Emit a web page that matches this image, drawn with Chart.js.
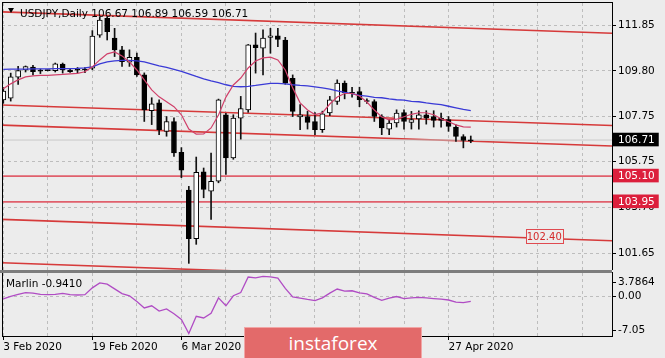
<!DOCTYPE html>
<html>
<head>
<meta charset="utf-8">
<script src="https://cdn.jsdelivr.net/npm/chart.js@4.4.1/dist/chart.umd.min.js"></script>
<style>
  html, body { margin:0; padding:0; background:#ececec; }
  #wrap { position:relative; width:665px; height:358px; overflow:hidden; background:#ececec; }
  #wrap canvas { position:absolute; left:0; }
  #mainCanvas { top:0; }
  #subCanvas { top:270px; }
  #sep { position:absolute; left:0; top:270px; width:612px; height:3px; background:#7d7d7d; }
  .txt { position:absolute; font-family:'DejaVu Sans', sans-serif; font-size:10.5px; color:#000; white-space:pre; line-height:12px; }
  #tri { position:absolute; left:8px; top:8px; width:0; height:0; border-left:3.5px solid transparent; border-right:3.5px solid transparent; border-top:5px solid #000; }
  #logo { position:absolute; left:244px; top:327px; width:176px; height:31px; background:#e36a6a; border:1px solid #f1a6a6; border-bottom:none; color:#fff; font-family:'Open Sans', sans-serif; font-size:19px; line-height:30px; text-align:center; }
</style>
</head>
<body>
<div id="wrap">
  <canvas id="mainCanvas" width="665" height="270"></canvas>
  <canvas id="subCanvas" width="665" height="88"></canvas>
  <div id="sep"></div>
  <div id="tri"></div>
  <div class="txt" id="title" style="left:20px;top:6.5px;"></div>
  <div class="txt" id="legend" style="left:6px;top:277px;"></div>
  <div id="logo">instaforex</div>
</div>
<script>
// ---------------- DATA ----------------
const symbolTitle = 'USDJPY,Daily';
const indicatorName = 'Marlin';

const opens  = [108.50,108.58,109.52,109.84,109.97,109.80,109.81,109.81,110.10,109.84,109.83,109.84,109.92,111.40,112.15,111.26,
                110.74,110.19,110.41,109.62,108.02,108.37,107.10,107.54,106.16,104.47,102.30,105.29,104.42,104.87,107.84,105.91,
                107.69,108.06,110.96,110.81,111.30,111.37,111.18,109.47,107.74,107.76,107.54,107.17,107.92,108.43,109.25,108.80,
                108.88,108.44,108.43,107.76,107.20,107.47,107.94,107.50,107.65,107.84,107.76,107.69,107.62,107.29,106.87,106.67];
const highs  = [109.05,109.70,110.00,110.02,110.05,109.88,109.84,110.15,110.15,109.88,109.95,109.95,111.60,112.22,112.22,111.70,
                110.90,110.74,110.60,109.71,108.60,108.51,107.76,107.70,106.37,104.64,105.95,105.46,106.13,108.54,107.90,107.84,
                108.66,110.98,111.49,111.63,111.70,111.70,111.30,109.62,108.29,107.99,107.94,108.00,108.66,109.40,109.35,109.07,
                109.07,108.55,108.51,107.84,107.62,108.06,108.06,107.99,108.02,108.02,108.02,107.92,107.76,107.39,106.95,106.89];
const lows   = [108.35,108.45,109.20,109.75,109.62,109.68,109.80,109.75,109.70,109.73,109.72,109.72,109.85,111.30,111.18,110.44,
                110.00,110.00,109.55,107.54,107.40,106.95,106.88,105.98,105.03,101.20,102.05,104.13,103.16,104.80,105.17,105.85,
                106.75,107.95,109.70,109.62,110.59,110.88,109.20,107.76,107.17,107.20,106.95,107.05,107.80,108.30,108.55,108.62,
                108.20,108.35,107.54,106.95,106.95,107.29,107.20,107.20,107.20,107.42,107.29,107.29,107.10,106.65,106.36,106.59];
const closes = [108.90,109.53,109.81,109.99,109.77,109.79,109.82,110.11,109.84,109.77,109.84,109.85,111.36,112.07,111.55,110.74,
                110.21,110.41,109.62,108.06,108.33,107.17,107.54,106.13,105.36,102.30,105.27,104.50,104.87,108.51,105.91,107.69,
                108.11,110.96,110.84,111.26,111.37,111.21,109.25,107.99,107.84,107.50,107.17,107.88,108.51,109.25,108.81,108.82,
                108.51,108.43,107.76,107.25,107.47,107.92,107.54,107.62,107.84,107.69,107.59,107.59,107.32,106.87,106.69,106.71];

const redMA  = [109.00,109.22,109.40,109.53,109.58,109.60,109.60,109.62,109.64,109.67,109.69,109.76,109.98,110.29,110.56,110.65,
                110.47,110.20,109.84,109.40,108.95,108.64,108.42,108.20,107.84,107.20,106.97,106.98,107.25,107.83,108.63,109.17,
                109.48,109.93,110.24,110.38,110.41,110.29,109.84,109.04,108.37,108.05,107.85,107.92,108.32,108.63,108.79,108.79,
                108.68,108.41,108.05,107.74,107.61,107.64,107.75,107.86,107.93,107.93,107.84,107.66,107.53,107.39,107.30,107.29];
const blueMA = [109.87,109.88,109.88,109.88,109.89,109.89,109.89,109.90,109.90,109.90,109.91,109.93,109.98,110.11,110.20,110.25,
                110.27,110.27,110.25,110.20,110.11,110.02,109.96,109.87,109.78,109.67,109.55,109.44,109.35,109.27,109.18,109.11,
                109.09,109.11,109.15,109.20,109.24,109.24,109.22,109.18,109.15,109.13,109.09,109.04,108.98,108.91,108.84,108.78,
                108.71,108.67,108.62,108.60,108.55,108.51,108.49,108.44,108.42,108.37,108.33,108.29,108.22,108.15,108.08,108.02];
const marlin = [-0.50,0.00,0.35,0.70,0.60,0.35,0.30,0.35,0.55,0.30,0.25,0.30,1.60,2.55,2.30,1.40,
                0.50,0.10,-1.00,-2.20,-1.80,-2.80,-2.40,-3.30,-4.40,-7.05,-3.80,-4.10,-3.20,-0.30,-1.80,0.10,
                0.70,3.66,3.50,3.7864,3.70,3.45,1.50,-0.10,-0.35,-0.60,-0.80,-0.30,0.60,1.38,1.00,1.05,
                0.65,0.45,-0.20,-0.76,-0.35,-0.04,-0.44,-0.30,-0.20,-0.30,-0.44,-0.55,-0.70,-1.10,-1.21,-0.941];

const priceTicks = [111.85, 109.80, 107.75, 105.75, 103.70, 101.65];
const levelValues = [105.10, 103.95];
const trendStart = [112.44, 108.28, 107.38, 103.17, 101.23];
const trendEnd   = [111.48, 107.36, 106.44, 102.21, 100.27];
const noteLabels = ['102.40'];
const noteBars   = [72.9];
const noteValues = [102.40];
const marlinTicks = [3.7864, 0, -7.05];
const marlinTickLabels = ['3.7864', '0.00', '-7.05'];
const dateLabels = ['3 Feb 2020', '19 Feb 2020', '6 Mar 2020', '24 Mar 2020', '9 Apr 2020', '27 Apr 2020'];
const dateBars   = [0, 12, 24, 36, 48, 60];

// ---------------- GEOMETRY / STYLE ----------------
const N = opens.length;
const barIndex = opens.map((_, i) => i);
const X_MIN = -0.175, X_MAX = 82.03;
const LINE_FROM = -0.45, LINE_TO = 82.1;
const Y_MIN = 100.903, Y_MAX = 112.833;
const M_MIN = -7.52, M_MAX = 4.415;
const FONT = { family: "'DejaVu Sans', sans-serif", size: 10.5 };
const BG = '#ececec';
const GRID = '#bdbdbd';
Chart.defaults.font.family = FONT.family;
Chart.defaults.font.size = FONT.size;

const lastClose = closes[N - 1];
const yTickValues = [...priceTicks, lastClose, ...levelValues];
const yTickLabels = yTickValues.map(v => v.toFixed(2));
const markColors = ['#000000', '#dc1f3c', '#dc1f3c'];

document.getElementById('title').textContent =
  symbolTitle + ' ' + [opens[N-1], highs[N-1], lows[N-1], closes[N-1]].map(v => v.toFixed(2)).join(' ');
document.getElementById('legend').textContent = indicatorName + ' ' + marlin[N-1].toFixed(4);

function gridTicks(s) {
  const t = [];
  for (let k = 0; k <= X_MAX; k += 6) t.push({ value: k });
  s.ticks = t;
}

const framePlugin = {
  id: 'frame',
  afterDraw(chart, args, opts) {
    const { ctx, chartArea: a } = chart;
    ctx.save();
    ctx.strokeStyle = '#000';
    ctx.lineWidth = 1;
    ctx.beginPath();
    (opts.sides || []).forEach(s => {
      if (s === 'top') { ctx.moveTo(a.left, a.top - 0.5); ctx.lineTo(a.right + 1, a.top - 0.5); }
      if (s === 'bottom') { ctx.moveTo(a.left, a.bottom + 0.5); ctx.lineTo(a.right + 1, a.bottom + 0.5); }
      if (s === 'left') { ctx.moveTo(a.left + 0.5, a.top - 1); ctx.lineTo(a.left + 0.5, a.bottom + 1); }
      if (s === 'right') { ctx.moveTo(a.right + 0.5, a.top - 1); ctx.lineTo(a.right + 0.5, a.bottom + 1); }
    });
    ctx.stroke();
    ctx.restore();
  }
};

const notePlugin = {
  id: 'notes',
  afterDatasetsDraw(chart) {
    const { ctx, scales: { x, y } } = chart;
    ctx.save();
    ctx.font = "10px 'DejaVu Sans', sans-serif";
    noteLabels.forEach((t, i) => {
      const px = x.getPixelForValue(noteBars[i]);
      const py = y.getPixelForValue(noteValues[i]);
      const w = Math.round(ctx.measureText(t).width + 2), h = 14;
      const l = Math.round(px - w / 2) + 0.5, tp = Math.round(py - h / 2) + 0.5;
      ctx.fillStyle = BG;
      ctx.fillRect(l, tp, w, h);
      ctx.strokeStyle = '#e04a50';
      ctx.lineWidth = 1;
      ctx.strokeRect(l, tp, w, h);
      ctx.fillStyle = '#d42a2a';
      ctx.textAlign = 'center';
      ctx.textBaseline = 'middle';
      ctx.fillText(t, px, py + 0.5);
    });
    ctx.restore();
  }
};

// ---------------- MAIN CHART ----------------
const wickData = barIndex.map(i => ({ x: i, y: [lows[i], highs[i]] }));
const bodyData = barIndex.map(i => ({ x: i, y: [opens[i], closes[i]] }));
const bodyColors = barIndex.map(i => Math.abs(closes[i] - opens[i]) < 0.04 ? '#000' : (closes[i] > opens[i] ? '#fff' : '#000'));

const lineDs = (data, color, width, order) => ({ type: 'line', data, borderColor: color, borderWidth: width, pointRadius: 0, fill: false, tension: 0, order });

new Chart(document.getElementById('mainCanvas'), {
  type: 'bar',
  data: {
    datasets: [
      ...trendStart.map((s, j) => lineDs([{ x: LINE_FROM, y: s }, { x: LINE_TO, y: trendEnd[j] }], '#d63a3a', 1.6, 10)),
      ...levelValues.map(v => lineDs([{ x: LINE_FROM, y: v }, { x: LINE_TO, y: v }], '#e0606c', 1.8, 10)),
      lineDs([{ x: LINE_FROM, y: lastClose }, { x: LINE_TO, y: lastClose }], '#c9c9c9', 1, 9),
      { type: 'bar', data: wickData, backgroundColor: '#111', barThickness: 1, grouped: false, order: 5 },
      { type: 'bar', data: bodyData, backgroundColor: bodyColors, borderColor: '#000', borderWidth: 1, borderSkipped: false,
        barThickness: 5, minBarLength: 1, grouped: false, order: 4 },
      lineDs(barIndex.map(i => ({ x: i, y: blueMA[i] })), '#3a3ad6', 1.3, 2),
      lineDs(barIndex.map(i => ({ x: i, y: redMA[i] })), '#d0406a', 1.2, 1)
    ]
  },
  options: {
    responsive: false, animation: false, devicePixelRatio: 1,
    layout: { padding: { left: 2, top: 3, right: 0, bottom: 0 } },
    plugins: { legend: { display: false }, tooltip: { enabled: false }, frame: { sides: ['top', 'left', 'right'] } },
    scales: {
      x: {
        type: 'linear', min: X_MIN, max: X_MAX, offset: false, position: 'bottom',
        grid: { offset: false, color: GRID, lineWidth: 1, drawTicks: false },
        border: { display: false, dash: [3, 3] },
        ticks: { display: false },
        afterBuildTicks: gridTicks,
        afterFit(s) { s.height = 0; s.paddingLeft = 0; s.paddingRight = 0; }
      },
      y: {
        type: 'linear', position: 'right', min: Y_MIN, max: Y_MAX,
        grid: {
          color: ctx => ctx.index < priceTicks.length ? GRID : 'rgba(0,0,0,0)',
          tickColor: ctx => ctx.index < priceTicks.length ? '#000' : 'rgba(0,0,0,0)',
          tickLength: 4
        },
        border: { display: false, dash: [3, 3] },
        ticks: {
          autoSkip: false, padding: 2, font: FONT,
          color: ctx => ctx.index < priceTicks.length ? '#000' : '#fff',
          showLabelBackdrop: ctx => ctx.index >= priceTicks.length,
          backdropColor: ctx => ctx.index >= priceTicks.length ? markColors[ctx.index - priceTicks.length] : 'rgba(0,0,0,0)',
          backdropPadding: { top: 1, bottom: 0, left: 5, right: 4 },
          callback: (v, i) => yTickLabels[i]
        },
        afterBuildTicks(s) { s.ticks = yTickValues.map(v => ({ value: v })); },
        afterFit(s) { s.width = 53; s.paddingTop = 0; s.paddingBottom = 0; }
      }
    }
  },
  plugins: [framePlugin, notePlugin]
});

// ---------------- SUB CHART (Marlin) ----------------
new Chart(document.getElementById('subCanvas'), {
  type: 'line',
  data: {
    datasets: [{
      data: barIndex.map(i => ({ x: i, y: marlin[i] })),
      borderColor: '#b04cc4', borderWidth: 1.3, pointRadius: 0, fill: false, tension: 0,
      xAxisID: 'x', yAxisID: 'y'
    }]
  },
  options: {
    responsive: false, animation: false, devicePixelRatio: 1,
    layout: { padding: { left: 2, top: 3, right: 0, bottom: 0 } },
    plugins: { legend: { display: false }, tooltip: { enabled: false }, frame: { sides: ['left', 'right', 'bottom'] } },
    scales: {
      x: {
        type: 'linear', min: X_MIN, max: X_MAX, offset: false, position: 'top',
        grid: { color: GRID, drawTicks: false },
        border: { display: false, dash: [3, 3] },
        ticks: { display: false },
        afterBuildTicks: gridTicks,
        afterFit(s) { s.height = 0; s.paddingLeft = 0; s.paddingRight = 0; }
      },
      xd: {
        type: 'linear', min: X_MIN, max: X_MAX, offset: false, position: 'bottom',
        grid: { drawOnChartArea: false, tickLength: 4, tickColor: '#000' },
        border: { display: false },
        ticks: { autoSkip: false, minRotation: 0, maxRotation: 0, align: 'start', padding: 1, font: FONT, color: '#000',
                 callback: (v, i) => dateLabels[i] },
        afterBuildTicks(s) { s.ticks = dateBars.map(v => ({ value: v })); },
        afterFit(s) { s.height = 22; s.paddingLeft = 0; s.paddingRight = 0; }
      },
      y: {
        type: 'linear', position: 'right', min: M_MIN, max: M_MAX,
        grid: { color: ctx => (ctx.tick && ctx.tick.level) ? GRID : 'rgba(0,0,0,0)', tickColor: '#000', tickLength: 4 },
        border: { display: false, dash: [3, 3] },
        ticks: { autoSkip: false, padding: 2, font: FONT, color: '#000', callback: (v, i) => marlinTickLabels[i] },
        afterBuildTicks(s) {
          const ppu = s.height / (s.max - s.min);
          const hiLim = s.max - 9.7 / ppu, loLim = s.min + 6 / ppu;
          s.ticks = marlinTicks.map(v => ({ value: Math.min(hiLim, Math.max(loLim, v)), level: v === 0 }));
        },
        afterFit(s) { s.width = 53; s.paddingTop = 0; s.paddingBottom = 0; }
      }
    }
  },
  plugins: [framePlugin]
});
</script>
</body>
</html>
